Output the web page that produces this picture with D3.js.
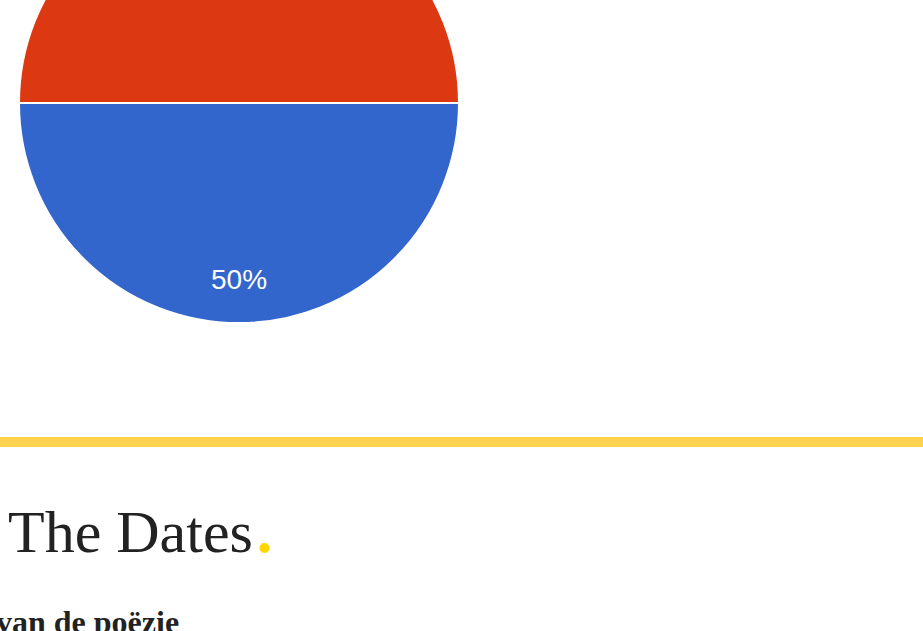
<!DOCTYPE html>
<html>
<head>
<meta charset="utf-8">
<script src="https://cdn.jsdelivr.net/npm/d3@7"></script>
<style>
  html, body { margin: 0; padding: 0; background: #fff; overflow: hidden; }
  svg { display: block; }
</style>
</head>
<body>
<script>
// Data
const categories = ["Option A", "Option B"];
const values = [50, 50];
const sliceColors = ["#dc3912", "#3366cc"];
const title = "The Dates";
const subtitle = "van de poëzie";

const W = 923, H = 631;
const svg = d3.select("body").append("svg").attr("width", W).attr("height", H);

const cx = 239, cy = 103, r = 220;

const pie = d3.pie().sort(null).startAngle(-Math.PI / 2).endAngle(1.5 * Math.PI);
const arcs = pie(values);
const arc = d3.arc().innerRadius(0).outerRadius(r);
const labelArc = d3.arc().innerRadius(r * 0.8).outerRadius(r * 0.8);
const total = d3.sum(values);

const g = svg.append("g").attr("transform", `translate(${cx},${cy})`);
g.selectAll("path.slice").data(arcs).join("path")
  .attr("class", "slice")
  .attr("d", arc)
  .attr("fill", (d, i) => sliceColors[i])
  .attr("stroke", "#ffffff")
  .attr("stroke-width", 2);

// only labels that fall inside the visible frame
const visibleArcs = arcs.filter(d => labelArc.centroid(d)[1] + cy > 20);
g.selectAll("text.lbl").data(visibleArcs).join("text")
  .attr("class", "lbl")
  .attr("transform", d => { const c = labelArc.centroid(d); return `translate(${c[0]},${c[1]})`; })
  .attr("dy", "0.36em")
  .attr("text-anchor", "middle")
  .attr("font-family", "Liberation Sans, Arial, sans-serif")
  .attr("font-size", 28)
  .attr("fill", "#ffffff")
  .text(d => Math.round(d.data / total * 100) + "%");

// Yellow divider
svg.append("rect").attr("x", 0).attr("y", 437).attr("width", W).attr("height", 10).attr("fill", "#ffd24f");

// Title
const t = svg.append("text")
  .attr("x", 8).attr("y", 552)
  .attr("font-family", "Liberation Serif, Times New Roman, serif")
  .attr("font-size", 60)
  .attr("fill", "#222222");
t.append("tspan").text(title);
t.append("tspan").attr("dx", 1).attr("font-size", 84).attr("fill", "#ffd600").text(".");

// Subtitle (cut off at bottom edge, as in reference)
svg.append("text")
  .attr("x", -4).attr("y", 633)
  .attr("font-family", "Liberation Serif, Times New Roman, serif")
  .attr("font-weight", "bold")
  .attr("font-size", 32)
  .attr("fill", "#222222")
  .text(subtitle);
</script>
</body>
</html>
